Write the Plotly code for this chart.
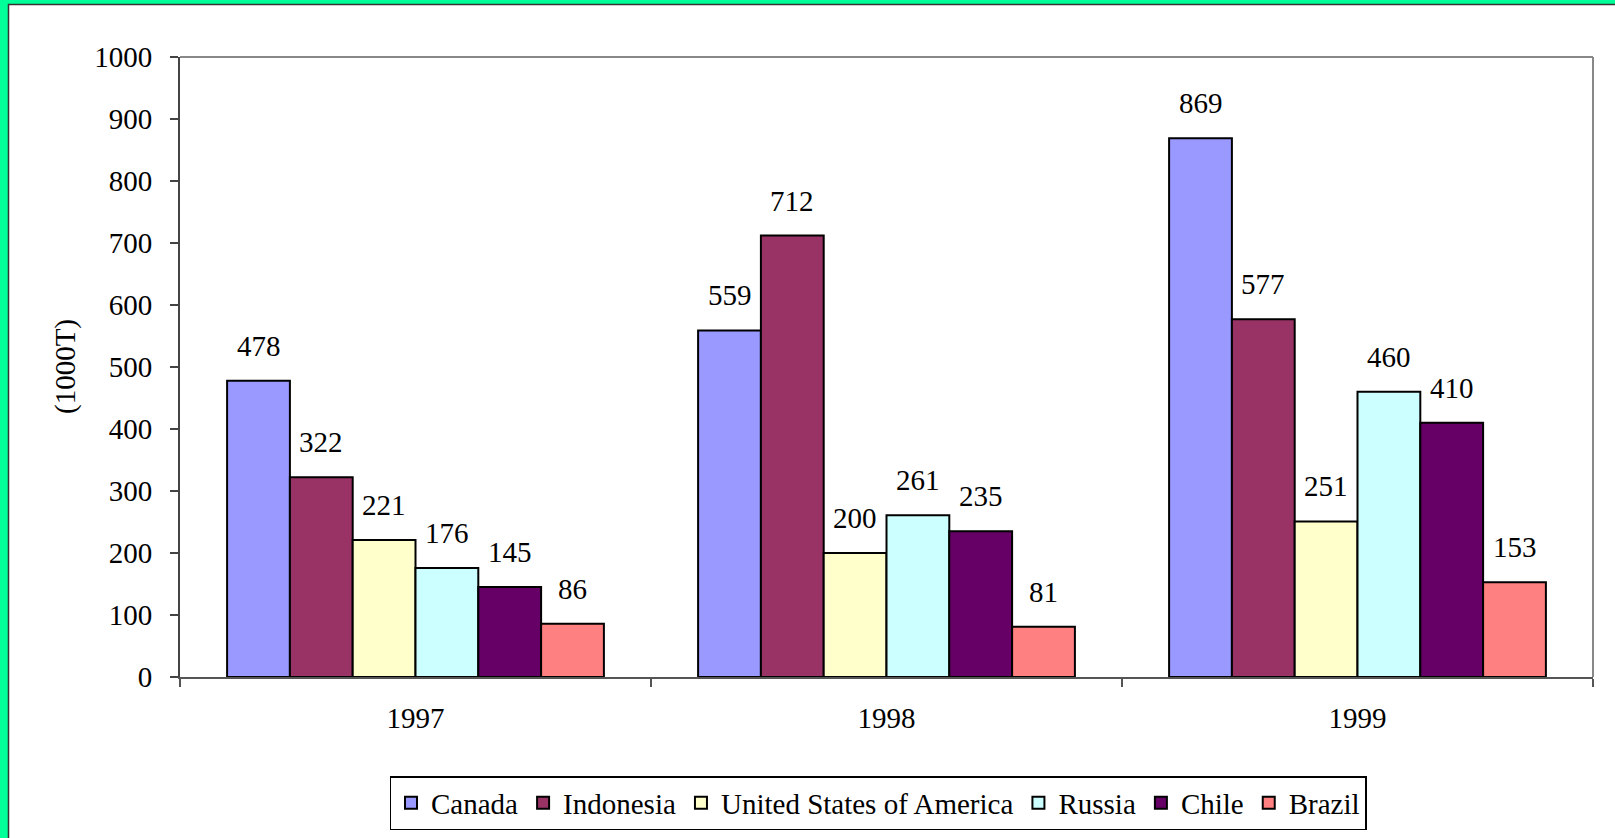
import plotly.graph_objects as go

years = ["1997", "1998", "1999"]
countries = ["Canada", "Indonesia", "United States of America", "Russia", "Chile", "Brazil"]
canada = [478, 559, 869]
indonesia = [322, 712, 577]
usa = [221, 200, 251]
russia = [176, 261, 460]
chile = [145, 235, 410]
brazil = [86, 81, 153]
series = [canada, indonesia, usa, russia, chile, brazil]
colors = ["#9999FF", "#993366", "#FFFFCC", "#CCFFFF", "#660066", "#FF8080"]
y_ticks = list(range(0, 1001, 100))

W, H = 1615, 838
L, R, T, B = 180, 22, 57, 161
FONT = "Liberation Serif, Times New Roman, serif"
FS = 29
BARGAP = 0.2

fig = go.Figure()
for name, vals, col in zip(countries, series, colors):
    fig.add_trace(go.Bar(
        x=years, y=vals, name=name,
        marker=dict(color=col, line=dict(color="black", width=2)),
    ))

# value labels above bars
n = len(series)
gw = 1 - BARGAP
bw = gw / n
annotations = []
for j, vals in enumerate(series):
    for i, v in enumerate(vals):
        annotations.append(dict(
            x=i - gw / 2 + (j + 0.5) * bw, y=v, xref="x", yref="y",
            text=str(v), showarrow=False, yanchor="middle", yshift=35,
            font=dict(family=FONT, size=FS, color="black"),
        ))

# y-axis title
pw = W - L - R
ph = H - T - B
annotations.append(dict(
    x=(65 - L) / pw, y=0.5, xref="paper", yref="paper",
    text="(1000T)", textangle=-90, showarrow=False,
    xanchor="center", yanchor="middle",
    font=dict(family=FONT, size=FS, color="black"),
))

def px2x(p):
    return (p - L) / pw

def py2y(p):
    return (H - B - p) / ph

shapes = [
    # white page with dark left/top edge over green background
    dict(type="rect", xref="paper", yref="paper",
         x0=px2x(8.5), x1=px2x(W + 20), y0=py2y(H + 20), y1=py2y(4.5),
         fillcolor="white", line=dict(color="#333333", width=1.5), layer="below"),
    # top and right plot border
    dict(type="line", xref="paper", yref="paper", x0=0, x1=1, y0=1, y1=1,
         line=dict(color="#888888", width=2)),
    dict(type="line", xref="paper", yref="paper", x0=1, x1=1, y0=0, y1=1,
         line=dict(color="#888888", width=2)),
]

fig.update_layout(
    width=W, height=H,
    margin=dict(l=L, r=R, t=T, b=B, autoexpand=False),
    paper_bgcolor="#00FF99",
    plot_bgcolor="white",
    barmode="group", bargap=BARGAP, bargroupgap=0,
    font=dict(family=FONT, size=FS, color="black"),
    showlegend=True,
    legend=dict(
        orientation="h", x=px2x(878), y=py2y(776), xanchor="center", yanchor="top",
        bgcolor="white", bordercolor="black", borderwidth=1.5,
        font=dict(family=FONT, size=FS, color="black"),
        itemclick=False,
    ),
    xaxis=dict(
        type="category", categoryorder="array", categoryarray=years,
        tickson="boundaries", ticks="outside", ticklen=8, tickwidth=2, tickcolor="#555555",
        showline=True, linecolor="#555555", linewidth=2,
        showgrid=False, zeroline=False,
        tickfont=dict(family=FONT, size=FS, color="black"),
        ticklabelstandoff=14,
    ),
    yaxis=dict(
        range=[0, 1000], tickvals=y_ticks, ticks="outside", ticklen=8, tickwidth=2,
        tickcolor="#444444", showline=True, linecolor="#444444", linewidth=2,
        showgrid=False, zeroline=False,
        tickfont=dict(family=FONT, size=FS, color="black"),
        ticklabelstandoff=12,
    ),
    xaxis2=dict(
        overlaying="x", anchor="y", range=[-0.5, 2.5],
        tickvals=[-0.5, 0.5, 1.5, 2.5], ticks="inside", ticklen=8, tickwidth=2,
        tickcolor="#555555", showticklabels=False, showline=False,
        showgrid=False, zeroline=False,
    ),
    yaxis2=dict(
        overlaying="y", anchor="x", range=[0, 1000], tickvals=y_ticks,
        ticks="inside", ticklen=8, tickwidth=2, tickcolor="#444444",
        showticklabels=False, showline=False, showgrid=False, zeroline=False,
    ),
    annotations=annotations,
    shapes=shapes,
)

fig.write_html("out.html")
